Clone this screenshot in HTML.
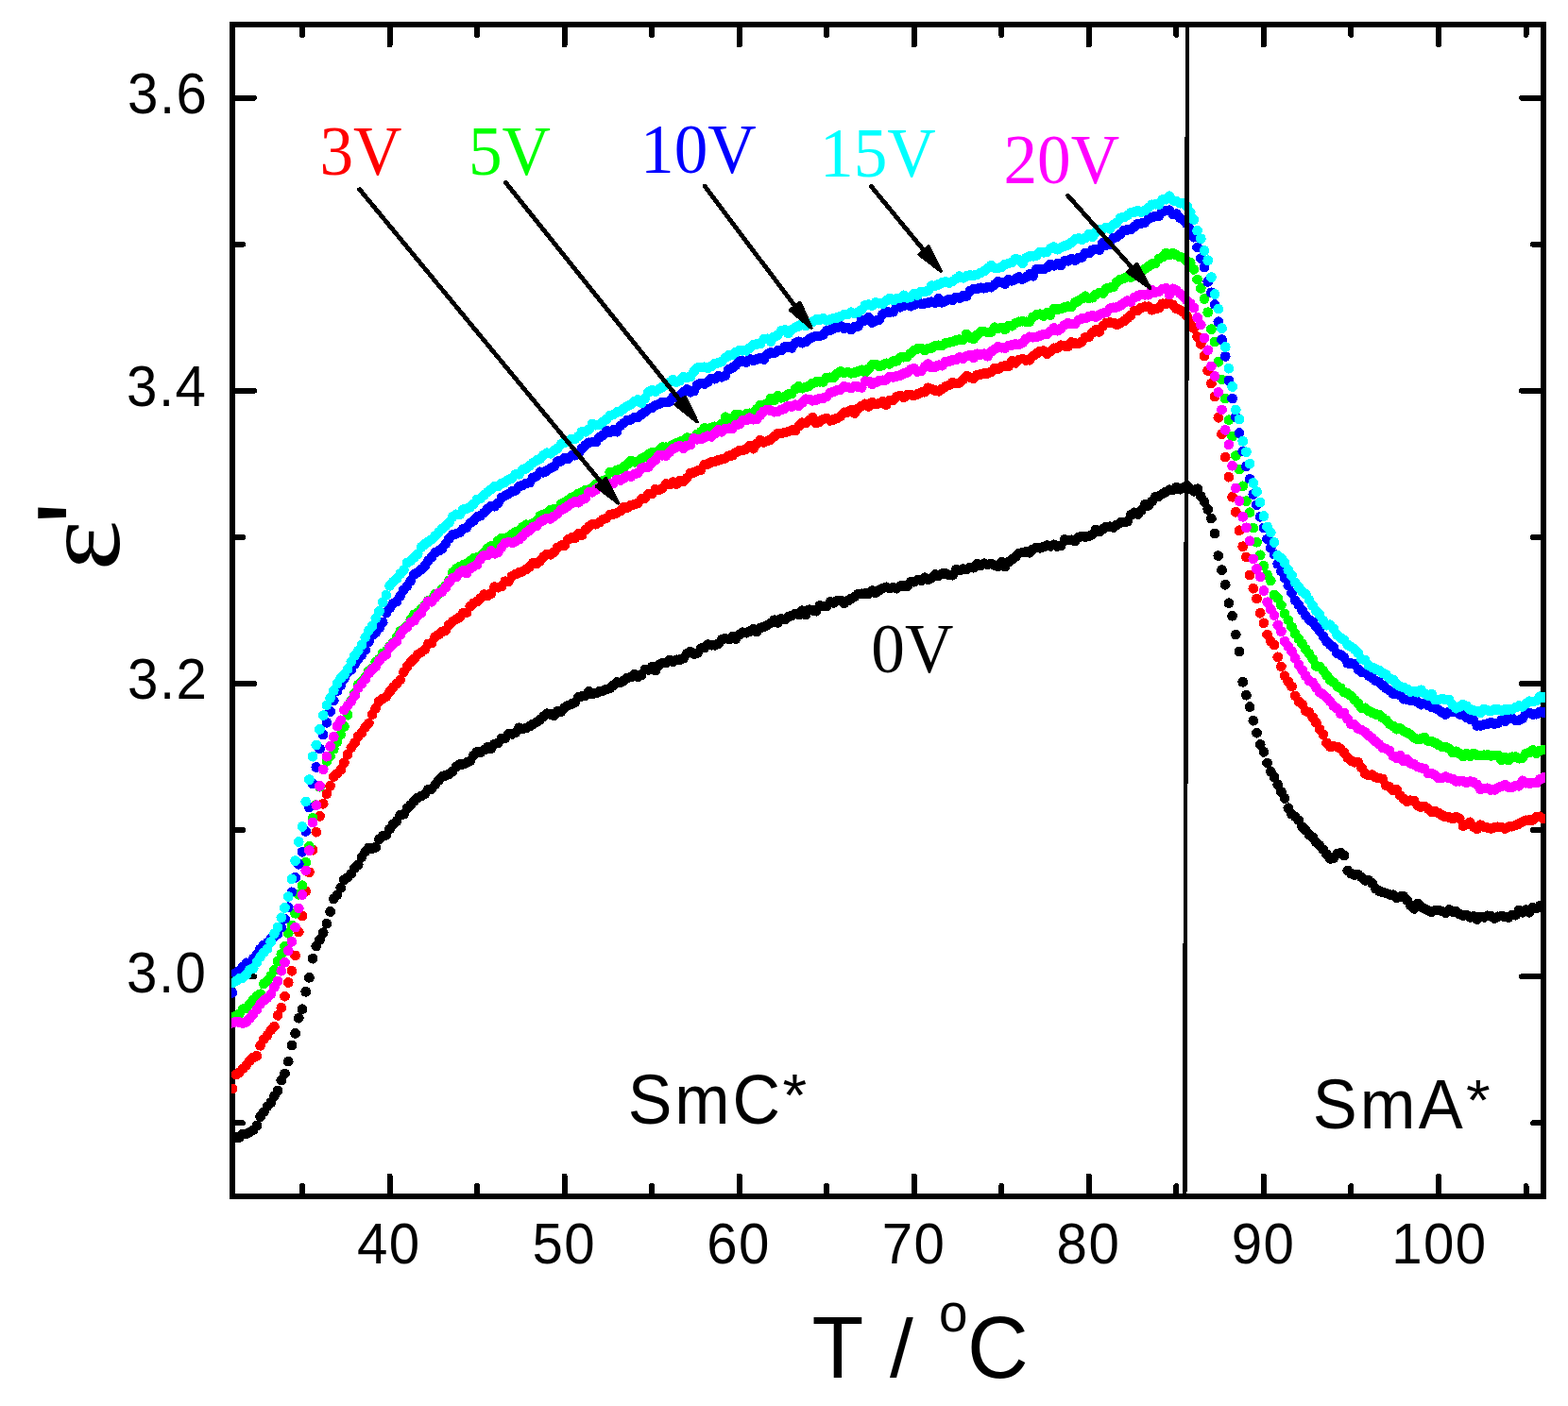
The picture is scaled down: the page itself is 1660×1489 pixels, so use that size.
<!DOCTYPE html>
<html lang="en">
<head>
<meta charset="utf-8">
<title>Dielectric permittivity vs temperature</title>
<style>
html,body{margin:0;padding:0;background:#fff;}
body{width:1660px;height:1489px;overflow:hidden;}
svg{display:block;}
</style>
</head>
<body>
<svg width="1660" height="1489" viewBox="0 0 1660 1489">
<rect x="0" y="0" width="1660" height="1489" fill="#ffffff"/>
<defs><clipPath id="plotclip"><rect x="245" y="23" width="1391.1" height="1247"/></clipPath></defs>
<g shape-rendering="crispEdges">
<rect x="246.0" y="26.0" width="1388.0" height="1241.0" fill="none" stroke="#000" stroke-width="6.0"/>
<path d="M320.0 1267.0V1256.0M320.0 26.0V37.0M412.6 1267.0V1245.5M412.6 26.0V47.5M505.1 1267.0V1256.0M505.1 26.0V37.0M597.6 1267.0V1245.5M597.6 26.0V47.5M690.2 1267.0V1256.0M690.2 26.0V37.0M782.7 1267.0V1245.5M782.7 26.0V47.5M875.2 1267.0V1256.0M875.2 26.0V37.0M967.8 1267.0V1245.5M967.8 26.0V47.5M1060.3 1267.0V1256.0M1060.3 26.0V37.0M1152.8 1267.0V1245.5M1152.8 26.0V47.5M1245.4 1267.0V1256.0M1245.4 26.0V37.0M1337.9 1267.0V1245.5M1337.9 26.0V47.5M1430.4 1267.0V1256.0M1430.4 26.0V37.0M1523.0 1267.0V1245.5M1523.0 26.0V47.5M1615.5 1267.0V1256.0M1615.5 26.0V37.0M246.0 1189.4H257.0M1634.0 1189.4H1623.0M246.0 1034.3H269.0M1634.0 1034.3H1611.0M246.0 879.2H257.0M1634.0 879.2H1623.0M246.0 724.1H269.0M1634.0 724.1H1611.0M246.0 568.9H257.0M1634.0 568.9H1623.0M246.0 413.8H269.0M1634.0 413.8H1611.0M246.0 258.7H257.0M1634.0 258.7H1623.0M246.0 103.6H269.0M1634.0 103.6H1611.0" stroke="#000" stroke-width="6.0" stroke-linecap="round" fill="none"/>
<g clip-path="url(#plotclip)" fill="none" stroke-width="10.8" stroke-linecap="round">
<path stroke="#000000" d="M246.0 1203.6h0M249.7 1204.3h0M253.4 1204.5h0M257.1 1201.1h0M260.8 1200.8h0M264.5 1198.9h0M268.2 1196.6h0M271.9 1191.9h0M275.6 1182.5h0M279.3 1177.6h0M283.0 1171.7h0M286.7 1167.7h0M290.4 1160.9h0M294.1 1155.1h0M297.8 1144.1h0M301.5 1136.9h0M305.2 1124.1h0M308.9 1107.0h0M312.6 1094.4h0M316.3 1078.2h0M320.0 1068.8h0M323.7 1050.3h0M327.4 1035.3h0M331.1 1015.2h0M334.8 1002.0h0M338.5 995.3h0M342.2 987.7h0M345.9 978.2h0M349.6 965.5h0M353.3 952.0h0M357.0 947.7h0M360.7 940.2h0M364.4 931.7h0M368.1 929.2h0M371.8 925.4h0M375.5 919.3h0M379.2 915.7h0M382.9 907.7h0M386.7 902.0h0M390.4 897.9h0M394.1 898.7h0M397.8 897.3h0M401.5 888.8h0M405.2 885.1h0M408.9 884.4h0M412.6 877.9h0M416.3 872.9h0M420.0 869.5h0M423.7 863.2h0M427.4 862.3h0M431.1 856.0h0M434.8 852.5h0M438.5 848.4h0M442.2 845.0h0M445.9 843.2h0M449.6 841.0h0M453.3 836.3h0M457.0 835.4h0M460.7 831.0h0M464.4 826.3h0M468.1 822.6h0M471.8 821.3h0M475.5 819.6h0M479.2 817.0h0M482.9 812.1h0M486.6 809.6h0M490.3 809.3h0M494.0 807.6h0M497.7 805.9h0M501.4 800.1h0M505.1 796.2h0M508.8 796.7h0M512.5 794.2h0M516.2 791.3h0M519.9 792.8h0M523.6 787.9h0M527.3 786.8h0M531.0 781.9h0M534.7 781.7h0M538.4 777.5h0M542.1 777.4h0M545.8 775.8h0M549.5 770.8h0M553.2 772.1h0M556.9 771.1h0M560.6 769.1h0M564.3 766.8h0M568.0 764.8h0M571.7 762.1h0M575.4 758.9h0M579.1 755.7h0M582.8 756.5h0M586.5 757.6h0M590.2 753.1h0M593.9 753.7h0M597.6 749.6h0M601.3 747.2h0M605.0 745.6h0M608.7 743.8h0M612.4 738.5h0M616.1 737.2h0M619.8 736.6h0M623.5 732.5h0M627.2 735.0h0M630.9 734.1h0M634.6 732.3h0M638.3 731.6h0M642.0 730.0h0M645.7 728.8h0M649.4 725.6h0M653.1 722.6h0M656.8 722.8h0M660.5 720.8h0M664.3 717.9h0M668.0 717.1h0M671.7 714.3h0M675.4 716.8h0M679.1 715.0h0M682.8 709.2h0M686.5 709.4h0M690.2 706.2h0M693.9 709.9h0M697.6 704.5h0M701.3 702.3h0M705.0 702.0h0M708.7 698.9h0M712.4 700.8h0M716.1 698.8h0M719.8 698.6h0M723.5 697.3h0M727.2 692.2h0M730.9 690.2h0M734.6 692.5h0M738.3 691.6h0M742.0 686.8h0M745.7 686.1h0M749.4 682.6h0M753.1 683.2h0M756.8 683.3h0M760.5 681.8h0M764.2 677.3h0M767.9 676.2h0M771.6 677.1h0M775.3 674.4h0M779.0 676.6h0M782.7 672.3h0M786.4 669.7h0M790.1 670.2h0M793.8 668.5h0M797.5 666.3h0M801.2 669.0h0M804.9 664.9h0M808.6 663.8h0M812.3 662.2h0M816.0 659.7h0M819.7 656.7h0M823.4 659.4h0M827.1 655.4h0M830.8 656.1h0M834.5 653.2h0M838.2 651.9h0M841.9 650.0h0M845.6 651.1h0M849.3 646.7h0M853.0 650.9h0M856.7 645.7h0M860.4 646.3h0M864.1 647.2h0M867.8 641.5h0M871.5 642.0h0M875.2 641.8h0M878.9 637.6h0M882.6 638.4h0M886.3 636.3h0M890.0 635.9h0M893.7 638.7h0M897.4 636.3h0M901.1 634.0h0M904.8 631.9h0M908.5 629.0h0M912.2 628.8h0M915.9 628.5h0M919.6 628.8h0M923.3 625.6h0M927.0 627.8h0M930.7 625.3h0M934.4 623.0h0M938.1 621.8h0M941.9 622.9h0M945.6 622.0h0M949.3 623.2h0M953.0 620.8h0M956.7 620.4h0M960.4 621.1h0M964.1 616.4h0M967.8 616.2h0M971.5 614.1h0M975.2 614.9h0M978.9 611.7h0M982.6 613.8h0M986.3 612.2h0M990.0 608.6h0M993.7 609.6h0M997.4 607.6h0M1001.1 607.4h0M1004.8 609.0h0M1008.5 609.1h0M1012.2 603.1h0M1015.9 604.1h0M1019.6 602.7h0M1023.3 603.1h0M1027.0 601.0h0M1030.7 601.2h0M1034.4 597.3h0M1038.1 598.8h0M1041.8 596.7h0M1045.5 598.0h0M1049.2 596.9h0M1052.9 598.7h0M1056.6 599.6h0M1060.3 595.4h0M1064.0 600.2h0M1067.7 595.2h0M1071.4 592.5h0M1075.1 589.6h0M1078.8 585.9h0M1082.5 584.9h0M1086.2 584.3h0M1089.9 585.3h0M1093.6 581.8h0M1097.3 580.0h0M1101.0 580.3h0M1104.7 579.2h0M1108.4 577.6h0M1112.1 578.4h0M1115.8 576.8h0M1119.5 578.5h0M1123.2 577.8h0M1126.9 571.5h0M1130.6 572.1h0M1134.3 571.8h0M1138.0 573.2h0M1141.7 569.4h0M1145.4 567.9h0M1149.1 568.7h0M1152.8 567.9h0M1156.5 565.9h0M1160.2 561.0h0M1163.9 563.1h0M1167.6 560.1h0M1171.3 558.0h0M1175.0 557.8h0M1178.7 558.5h0M1182.4 555.8h0M1186.1 553.6h0M1189.8 553.0h0M1193.5 552.2h0M1197.2 545.4h0M1200.9 542.8h0M1204.6 544.5h0M1208.3 540.4h0M1212.0 534.4h0M1215.7 535.4h0M1219.5 531.0h0M1223.2 526.4h0M1226.9 525.5h0M1230.6 523.0h0M1234.3 520.8h0M1238.0 518.7h0M1241.7 518.7h0M1245.4 516.2h0M1249.1 518.2h0M1252.8 516.5h0M1256.5 514.2h0M1260.2 517.9h0M1263.9 520.3h0M1267.6 517.7h0M1271.3 525.5h0M1275.0 531.4h0M1278.7 539.4h0M1282.4 549.1h0M1286.1 564.9h0M1289.8 588.6h0M1293.5 603.7h0M1297.2 619.3h0M1300.9 638.7h0M1304.6 652.2h0M1308.3 672.1h0M1312.0 690.0h0M1315.7 722.3h0M1319.4 736.2h0M1323.1 748.6h0M1326.8 763.2h0M1330.5 776.1h0M1334.2 788.5h0M1337.9 796.4h0M1341.6 808.1h0M1345.3 817.0h0M1349.0 823.0h0M1352.7 831.0h0M1356.4 838.5h0M1360.1 845.5h0M1363.8 855.7h0M1367.5 862.2h0M1371.2 864.9h0M1374.9 868.7h0M1378.6 875.7h0M1382.3 879.3h0M1386.0 884.1h0M1389.7 886.6h0M1393.4 892.0h0M1397.1 895.5h0M1400.8 899.6h0M1404.5 904.6h0M1408.2 909.4h0M1411.9 908.8h0M1415.6 904.3h0M1419.3 903.4h0M1423.0 905.9h0M1426.7 922.0h0M1430.4 925.2h0M1434.1 926.5h0M1437.8 926.2h0M1441.5 929.1h0M1445.2 932.4h0M1448.9 932.2h0M1452.6 935.5h0M1456.3 941.0h0M1460.0 943.5h0M1463.7 944.8h0M1467.4 945.9h0M1471.1 947.3h0M1474.8 947.7h0M1478.5 950.8h0M1482.2 949.6h0M1485.9 949.4h0M1489.6 953.3h0M1493.3 958.8h0M1497.1 962.4h0M1500.8 956.9h0M1504.5 960.4h0M1508.2 962.4h0M1511.9 964.2h0M1515.6 965.7h0M1519.3 964.1h0M1523.0 964.1h0M1526.7 965.1h0M1530.4 966.7h0M1534.1 963.5h0M1537.8 965.5h0M1541.5 965.5h0M1545.2 968.0h0M1548.9 969.6h0M1552.6 969.1h0M1556.3 971.4h0M1560.0 970.4h0M1563.7 973.5h0M1567.4 970.9h0M1571.1 971.4h0M1574.8 969.8h0M1578.5 970.4h0M1582.2 972.5h0M1585.9 970.8h0M1589.6 969.9h0M1593.3 971.1h0M1597.0 971.7h0M1600.7 969.0h0M1604.4 969.2h0M1608.1 964.1h0M1611.8 966.3h0M1615.5 963.7h0M1619.2 966.3h0M1622.9 961.3h0M1626.6 962.0h0M1630.3 959.3h0M1634.0 959.8h0"/>
<path stroke="#ff0000" d="M246.0 1152.9h0M249.7 1138.1h0M253.4 1135.7h0M257.1 1131.7h0M260.8 1128.0h0M264.5 1123.4h0M268.2 1120.0h0M271.9 1118.3h0M275.6 1107.3h0M279.3 1100.6h0M283.0 1096.5h0M286.7 1090.9h0M290.4 1087.1h0M294.1 1075.4h0M297.8 1067.2h0M301.5 1055.1h0M305.2 1040.5h0M308.9 1028.3h0M312.6 1011.9h0M316.3 987.0h0M320.0 970.1h0M323.7 944.0h0M327.4 923.8h0M331.1 900.2h0M334.8 881.2h0M338.5 864.4h0M342.2 851.3h0M345.9 840.8h0M349.6 832.3h0M353.3 822.4h0M357.0 819.3h0M360.7 815.2h0M364.4 807.6h0M368.1 799.0h0M371.8 791.8h0M375.5 786.8h0M379.2 780.0h0M382.9 776.2h0M386.7 770.1h0M390.4 766.0h0M394.1 756.6h0M397.8 750.0h0M401.5 742.6h0M405.2 739.8h0M408.9 737.7h0M412.6 732.5h0M416.3 728.0h0M420.0 724.0h0M423.7 720.0h0M427.4 711.8h0M431.1 705.9h0M434.8 701.1h0M438.5 697.6h0M442.2 693.3h0M445.9 690.8h0M449.6 688.0h0M453.3 682.0h0M457.0 681.2h0M460.7 674.5h0M464.4 672.2h0M468.1 668.8h0M471.8 667.6h0M475.5 661.6h0M479.2 658.2h0M482.9 655.8h0M486.6 653.6h0M490.3 649.3h0M494.0 648.8h0M497.7 642.4h0M501.4 638.9h0M505.1 637.1h0M508.8 633.5h0M512.5 629.7h0M516.2 630.8h0M519.9 628.6h0M523.6 621.6h0M527.3 622.2h0M531.0 621.1h0M534.7 615.7h0M538.4 615.9h0M542.1 610.2h0M545.8 608.2h0M549.5 606.4h0M553.2 605.2h0M556.9 602.9h0M560.6 600.3h0M564.3 596.3h0M568.0 596.9h0M571.7 594.1h0M575.4 589.8h0M579.1 586.9h0M582.8 587.3h0M586.5 584.7h0M590.2 580.0h0M593.9 577.7h0M597.6 577.5h0M601.3 571.4h0M605.0 569.6h0M608.7 569.8h0M612.4 565.3h0M616.1 566.6h0M619.8 561.3h0M623.5 557.7h0M627.2 555.2h0M630.9 555.2h0M634.6 553.1h0M638.3 550.1h0M642.0 548.7h0M645.7 545.3h0M649.4 544.4h0M653.1 543.3h0M656.8 541.2h0M660.5 537.0h0M664.3 537.5h0M668.0 535.2h0M671.7 534.2h0M675.4 532.6h0M679.1 528.5h0M682.8 527.5h0M686.5 523.5h0M690.2 523.0h0M693.9 518.2h0M697.6 519.0h0M701.3 517.1h0M705.0 512.6h0M708.7 513.1h0M712.4 510.6h0M716.1 512.6h0M719.8 508.9h0M723.5 509.7h0M727.2 506.2h0M730.9 501.3h0M734.6 500.3h0M738.3 498.6h0M742.0 497.7h0M745.7 492.4h0M749.4 491.5h0M753.1 489.4h0M756.8 488.7h0M760.5 487.5h0M764.2 486.2h0M767.9 485.4h0M771.6 482.7h0M775.3 482.3h0M779.0 479.3h0M782.7 477.3h0M786.4 476.8h0M790.1 475.4h0M793.8 472.0h0M797.5 475.1h0M801.2 469.8h0M804.9 466.3h0M808.6 468.4h0M812.3 467.1h0M816.0 465.4h0M819.7 462.2h0M823.4 459.0h0M827.1 458.9h0M830.8 458.1h0M834.5 456.9h0M838.2 455.6h0M841.9 456.1h0M845.6 451.4h0M849.3 447.7h0M853.0 447.9h0M856.7 445.3h0M860.4 442.1h0M864.1 448.0h0M867.8 446.6h0M871.5 444.0h0M875.2 442.9h0M878.9 445.4h0M882.6 444.3h0M886.3 442.8h0M890.0 440.6h0M893.7 436.8h0M897.4 436.4h0M901.1 434.2h0M904.8 437.6h0M908.5 432.7h0M912.2 430.0h0M915.9 427.8h0M919.6 430.4h0M923.3 426.3h0M927.0 428.0h0M930.7 427.2h0M934.4 425.3h0M938.1 428.7h0M941.9 424.0h0M945.6 423.8h0M949.3 420.1h0M953.0 419.2h0M956.7 421.0h0M960.4 418.4h0M964.1 418.2h0M967.8 418.9h0M971.5 417.4h0M975.2 415.6h0M978.9 415.2h0M982.6 410.8h0M986.3 412.0h0M990.0 413.6h0M993.7 414.3h0M997.4 411.9h0M1001.1 409.4h0M1004.8 407.8h0M1008.5 404.9h0M1012.2 406.0h0M1015.9 405.4h0M1019.6 402.0h0M1023.3 398.4h0M1027.0 399.7h0M1030.7 400.6h0M1034.4 397.2h0M1038.1 396.5h0M1041.8 395.6h0M1045.5 395.5h0M1049.2 393.8h0M1052.9 390.0h0M1056.6 391.0h0M1060.3 388.5h0M1064.0 387.5h0M1067.7 387.7h0M1071.4 382.4h0M1075.1 384.4h0M1078.8 380.9h0M1082.5 379.9h0M1086.2 381.6h0M1089.9 381.3h0M1093.6 377.0h0M1097.3 374.5h0M1101.0 372.0h0M1104.7 371.6h0M1108.4 374.6h0M1112.1 372.3h0M1115.8 368.8h0M1119.5 368.5h0M1123.2 365.7h0M1126.9 366.3h0M1130.6 367.0h0M1134.3 362.5h0M1138.0 363.6h0M1141.7 363.8h0M1145.4 361.7h0M1149.1 357.2h0M1152.8 356.8h0M1156.5 352.3h0M1160.2 349.4h0M1163.9 351.4h0M1167.6 345.2h0M1171.3 342.0h0M1175.0 341.6h0M1178.7 341.9h0M1182.4 343.8h0M1186.1 342.2h0M1189.8 340.2h0M1193.5 337.0h0M1197.2 333.8h0M1200.9 329.1h0M1204.6 328.7h0M1208.3 325.9h0M1212.0 324.8h0M1215.7 324.7h0M1219.5 328.3h0M1223.2 327.0h0M1226.9 326.2h0M1230.6 321.7h0M1234.3 321.7h0M1238.0 320.8h0M1241.7 322.9h0M1245.4 326.8h0M1249.1 328.3h0M1252.8 330.6h0M1256.5 334.7h0M1260.2 340.7h0M1263.9 347.6h0M1267.6 356.7h0M1271.3 364.4h0M1275.0 377.1h0M1278.7 392.5h0M1282.4 406.1h0M1286.1 420.1h0M1289.8 442.3h0M1293.5 459.8h0M1297.2 484.1h0M1300.9 505.2h0M1304.6 526.3h0M1308.3 542.3h0M1312.0 561.8h0M1315.7 578.7h0M1319.4 589.9h0M1323.1 608.9h0M1326.8 623.2h0M1330.5 634.0h0M1334.2 649.3h0M1337.9 659.8h0M1341.6 672.1h0M1345.3 679.0h0M1349.0 683.0h0M1352.7 695.8h0M1356.4 705.9h0M1360.1 715.8h0M1363.8 722.0h0M1367.5 727.0h0M1371.2 736.9h0M1374.9 742.8h0M1378.6 746.0h0M1382.3 752.9h0M1386.0 754.5h0M1389.7 759.6h0M1393.4 765.4h0M1397.1 772.3h0M1400.8 777.9h0M1404.5 786.8h0M1408.2 790.7h0M1411.9 790.2h0M1415.6 790.9h0M1419.3 792.9h0M1423.0 796.8h0M1426.7 802.4h0M1430.4 805.6h0M1434.1 807.3h0M1437.8 807.1h0M1441.5 813.1h0M1445.2 819.3h0M1448.9 821.1h0M1452.6 820.6h0M1456.3 823.2h0M1460.0 824.1h0M1463.7 824.9h0M1467.4 832.0h0M1471.1 833.5h0M1474.8 836.9h0M1478.5 836.5h0M1482.2 842.4h0M1485.9 845.9h0M1489.6 849.0h0M1493.3 847.7h0M1497.1 848.2h0M1500.8 853.3h0M1504.5 854.5h0M1508.2 854.1h0M1511.9 856.5h0M1515.6 859.6h0M1519.3 859.3h0M1523.0 860.9h0M1526.7 863.3h0M1530.4 865.1h0M1534.1 865.5h0M1537.8 867.1h0M1541.5 865.4h0M1545.2 866.8h0M1548.9 874.6h0M1552.6 872.8h0M1556.3 870.8h0M1560.0 875.6h0M1563.7 878.0h0M1567.4 873.7h0M1571.1 875.7h0M1574.8 876.6h0M1578.5 877.4h0M1582.2 876.3h0M1585.9 875.8h0M1589.6 876.1h0M1593.3 877.6h0M1597.0 875.8h0M1600.7 875.2h0M1604.4 874.1h0M1608.1 872.4h0M1611.8 870.4h0M1615.5 868.8h0M1619.2 868.5h0M1622.9 868.4h0M1626.6 865.3h0M1630.3 864.8h0M1634.0 867.1h0"/>
<path stroke="#00ff00" d="M246.0 1077.8h0M249.7 1076.1h0M253.4 1073.8h0M257.1 1068.7h0M260.8 1067.5h0M264.5 1063.5h0M268.2 1058.9h0M271.9 1054.9h0M275.6 1052.7h0M279.3 1042.0h0M283.0 1038.9h0M286.7 1033.7h0M290.4 1027.3h0M294.1 1018.1h0M297.8 1010.4h0M301.5 1002.1h0M305.2 988.3h0M308.9 979.9h0M312.6 967.3h0M316.3 947.3h0M320.0 937.8h0M323.7 913.2h0M327.4 896.4h0M331.1 866.4h0M334.8 852.6h0M338.5 833.3h0M342.2 814.8h0M345.9 806.4h0M349.6 800.8h0M353.3 793.3h0M357.0 785.5h0M360.7 778.0h0M364.4 769.4h0M368.1 757.2h0M371.8 742.0h0M375.5 734.3h0M379.2 725.4h0M382.9 722.2h0M386.7 716.9h0M390.4 710.6h0M394.1 708.1h0M397.8 701.0h0M401.5 698.0h0M405.2 691.8h0M408.9 689.5h0M412.6 684.8h0M416.3 680.7h0M420.0 674.8h0M423.7 668.6h0M427.4 666.3h0M431.1 662.9h0M434.8 656.3h0M438.5 650.8h0M442.2 648.7h0M445.9 644.8h0M449.6 641.4h0M453.3 636.2h0M457.0 634.9h0M460.7 629.1h0M464.4 628.7h0M468.1 624.0h0M471.8 620.4h0M475.5 614.8h0M479.2 606.4h0M482.9 602.5h0M486.6 600.1h0M490.3 598.5h0M494.0 596.9h0M497.7 593.9h0M501.4 591.3h0M505.1 590.2h0M508.8 588.9h0M512.5 585.4h0M516.2 580.9h0M519.9 578.4h0M523.6 578.6h0M527.3 572.9h0M531.0 570.2h0M534.7 569.9h0M538.4 568.9h0M542.1 565.8h0M545.8 563.6h0M549.5 562.1h0M553.2 558.4h0M556.9 555.7h0M560.6 556.4h0M564.3 554.3h0M568.0 551.7h0M571.7 546.6h0M575.4 544.8h0M579.1 543.5h0M582.8 540.1h0M586.5 539.3h0M590.2 539.7h0M593.9 534.3h0M597.6 531.9h0M601.3 529.9h0M605.0 527.1h0M608.7 525.6h0M612.4 522.8h0M616.1 521.4h0M619.8 518.9h0M623.5 518.6h0M627.2 516.5h0M630.9 512.7h0M634.6 510.4h0M638.3 509.3h0M642.0 507.7h0M645.7 500.2h0M649.4 500.0h0M653.1 497.8h0M656.8 496.9h0M660.5 494.2h0M664.3 491.5h0M668.0 488.1h0M671.7 489.3h0M675.4 488.9h0M679.1 485.7h0M682.8 484.2h0M686.5 481.2h0M690.2 479.1h0M693.9 479.4h0M697.6 477.3h0M701.3 473.6h0M705.0 473.8h0M708.7 473.5h0M712.4 471.0h0M716.1 469.4h0M719.8 467.8h0M723.5 466.6h0M727.2 463.6h0M730.9 464.0h0M734.6 464.3h0M738.3 459.8h0M742.0 457.4h0M745.7 453.5h0M749.4 454.6h0M753.1 452.8h0M756.8 451.8h0M760.5 452.1h0M764.2 449.0h0M767.9 441.7h0M771.6 444.5h0M775.3 442.9h0M779.0 439.1h0M782.7 439.5h0M786.4 440.2h0M790.1 438.5h0M793.8 437.8h0M797.5 437.1h0M801.2 433.1h0M804.9 429.2h0M808.6 428.8h0M812.3 427.5h0M816.0 421.9h0M819.7 423.9h0M823.4 419.4h0M827.1 421.3h0M830.8 420.2h0M834.5 417.6h0M838.2 416.8h0M841.9 412.1h0M845.6 409.3h0M849.3 411.2h0M853.0 410.2h0M856.7 408.6h0M860.4 405.9h0M864.1 404.5h0M867.8 404.3h0M871.5 404.4h0M875.2 400.0h0M878.9 399.8h0M882.6 399.5h0M886.3 395.6h0M890.0 393.5h0M893.7 395.0h0M897.4 394.1h0M901.1 395.3h0M904.8 394.5h0M908.5 393.4h0M912.2 391.8h0M915.9 394.0h0M919.6 390.8h0M923.3 386.4h0M927.0 386.0h0M930.7 388.1h0M934.4 386.6h0M938.1 384.8h0M941.9 385.4h0M945.6 382.6h0M949.3 382.3h0M953.0 378.7h0M956.7 378.2h0M960.4 377.7h0M964.1 374.2h0M967.8 370.9h0M971.5 369.4h0M975.2 369.0h0M978.9 371.1h0M982.6 369.0h0M986.3 368.4h0M990.0 366.3h0M993.7 365.8h0M997.4 365.8h0M1001.1 363.4h0M1004.8 362.7h0M1008.5 362.0h0M1012.2 360.4h0M1015.9 359.6h0M1019.6 359.8h0M1023.3 353.9h0M1027.0 357.6h0M1030.7 358.7h0M1034.4 354.6h0M1038.1 351.5h0M1041.8 351.1h0M1045.5 351.9h0M1049.2 351.5h0M1052.9 346.7h0M1056.6 347.9h0M1060.3 347.0h0M1064.0 348.8h0M1067.7 344.9h0M1071.4 345.2h0M1075.1 342.3h0M1078.8 340.8h0M1082.5 340.2h0M1086.2 340.8h0M1089.9 340.6h0M1093.6 335.8h0M1097.3 333.4h0M1101.0 332.7h0M1104.7 334.5h0M1108.4 331.5h0M1112.1 333.5h0M1115.8 327.0h0M1119.5 327.7h0M1123.2 327.1h0M1126.9 325.5h0M1130.6 324.6h0M1134.3 324.9h0M1138.0 320.5h0M1141.7 318.6h0M1145.4 316.3h0M1149.1 313.7h0M1152.8 315.9h0M1156.5 315.2h0M1160.2 312.0h0M1163.9 310.2h0M1167.6 310.5h0M1171.3 305.7h0M1175.0 304.8h0M1178.7 303.9h0M1182.4 298.7h0M1186.1 296.1h0M1189.8 294.9h0M1193.5 293.0h0M1197.2 293.5h0M1200.9 291.6h0M1204.6 287.9h0M1208.3 287.7h0M1212.0 284.8h0M1215.7 282.3h0M1219.5 279.7h0M1223.2 278.7h0M1226.9 274.3h0M1230.6 272.1h0M1234.3 268.1h0M1238.0 270.0h0M1241.7 268.2h0M1245.4 270.2h0M1249.1 272.1h0M1252.8 273.1h0M1256.5 276.5h0M1260.2 278.2h0M1263.9 285.4h0M1267.6 296.0h0M1271.3 305.4h0M1275.0 316.5h0M1278.7 330.7h0M1282.4 348.6h0M1286.1 362.0h0M1289.8 383.3h0M1293.5 401.9h0M1297.2 422.1h0M1300.9 444.7h0M1304.6 462.1h0M1308.3 482.6h0M1312.0 497.0h0M1315.7 514.8h0M1319.4 530.6h0M1323.1 542.7h0M1326.8 559.1h0M1330.5 574.3h0M1334.2 587.8h0M1337.9 599.2h0M1341.6 608.8h0M1345.3 615.1h0M1349.0 630.0h0M1352.7 633.4h0M1356.4 640.9h0M1360.1 649.9h0M1363.8 656.6h0M1367.5 663.9h0M1371.2 671.0h0M1374.9 676.6h0M1378.6 681.9h0M1382.3 687.5h0M1386.0 692.3h0M1389.7 698.1h0M1393.4 705.3h0M1397.1 706.1h0M1400.8 710.3h0M1404.5 715.2h0M1408.2 720.0h0M1411.9 722.7h0M1415.6 726.8h0M1419.3 728.7h0M1423.0 733.2h0M1426.7 734.5h0M1430.4 736.9h0M1434.1 741.3h0M1437.8 745.0h0M1441.5 749.8h0M1445.2 749.8h0M1448.9 753.1h0M1452.6 754.6h0M1456.3 756.3h0M1460.0 757.1h0M1463.7 760.2h0M1467.4 762.7h0M1471.1 766.8h0M1474.8 769.0h0M1478.5 772.1h0M1482.2 771.4h0M1485.9 774.3h0M1489.6 775.8h0M1493.3 777.8h0M1497.1 781.3h0M1500.8 782.9h0M1504.5 782.5h0M1508.2 781.0h0M1511.9 784.7h0M1515.6 785.2h0M1519.3 786.7h0M1523.0 789.0h0M1526.7 791.0h0M1530.4 791.1h0M1534.1 792.7h0M1537.8 797.0h0M1541.5 795.8h0M1545.2 798.2h0M1548.9 800.9h0M1552.6 798.5h0M1556.3 800.8h0M1560.0 798.1h0M1563.7 799.6h0M1567.4 799.9h0M1571.1 799.7h0M1574.8 799.5h0M1578.5 800.4h0M1582.2 800.0h0M1585.9 800.1h0M1589.6 804.9h0M1593.3 802.4h0M1597.0 804.9h0M1600.7 801.7h0M1604.4 801.6h0M1608.1 803.2h0M1611.8 802.5h0M1615.5 798.0h0M1619.2 796.7h0M1622.9 794.5h0M1626.6 797.6h0M1630.3 794.9h0M1634.0 794.1h0"/>
<path stroke="#0000ff" d="M246.0 1051.3h0M249.7 1030.6h0M253.4 1028.1h0M257.1 1024.1h0M260.8 1019.8h0M264.5 1020.5h0M268.2 1015.2h0M271.9 1010.8h0M275.6 1004.9h0M279.3 1000.8h0M283.0 998.5h0M286.7 994.3h0M290.4 991.8h0M294.1 989.2h0M297.8 982.2h0M301.5 973.1h0M305.2 960.7h0M308.9 944.8h0M312.6 929.4h0M316.3 915.3h0M320.0 902.3h0M323.7 880.4h0M327.4 855.1h0M331.1 829.9h0M334.8 812.5h0M338.5 793.0h0M342.2 778.0h0M345.9 765.3h0M349.6 753.5h0M353.3 742.0h0M357.0 731.8h0M360.7 725.9h0M364.4 718.7h0M368.1 711.8h0M371.8 709.1h0M375.5 703.2h0M379.2 698.3h0M382.9 693.7h0M386.7 688.4h0M390.4 679.8h0M394.1 672.7h0M397.8 669.9h0M401.5 665.1h0M405.2 659.2h0M408.9 649.2h0M412.6 643.9h0M416.3 639.1h0M420.0 636.9h0M423.7 631.1h0M427.4 624.6h0M431.1 620.5h0M434.8 615.0h0M438.5 608.3h0M442.2 606.2h0M445.9 603.1h0M449.6 599.5h0M453.3 594.0h0M457.0 590.2h0M460.7 585.3h0M464.4 583.3h0M468.1 580.9h0M471.8 575.8h0M475.5 570.5h0M479.2 566.2h0M482.9 565.4h0M486.6 564.0h0M490.3 560.1h0M494.0 558.6h0M497.7 553.8h0M501.4 551.5h0M505.1 547.5h0M508.8 546.0h0M512.5 542.9h0M516.2 538.8h0M519.9 536.1h0M523.6 536.2h0M527.3 532.7h0M531.0 526.9h0M534.7 524.8h0M538.4 523.0h0M542.1 520.4h0M545.8 519.4h0M549.5 515.4h0M553.2 513.9h0M556.9 511.9h0M560.6 511.1h0M564.3 505.8h0M568.0 504.3h0M571.7 499.8h0M575.4 500.3h0M579.1 498.4h0M582.8 495.7h0M586.5 494.1h0M590.2 488.6h0M593.9 488.4h0M597.6 485.3h0M601.3 486.0h0M605.0 482.6h0M608.7 482.2h0M612.4 480.4h0M616.1 475.0h0M619.8 471.5h0M623.5 468.8h0M627.2 468.1h0M630.9 468.0h0M634.6 463.1h0M638.3 460.7h0M642.0 456.1h0M645.7 457.9h0M649.4 455.4h0M653.1 457.2h0M656.8 450.7h0M660.5 447.9h0M664.3 445.0h0M668.0 444.3h0M671.7 442.2h0M675.4 441.9h0M679.1 438.8h0M682.8 436.2h0M686.5 433.1h0M690.2 431.9h0M693.9 429.4h0M697.6 428.0h0M701.3 425.9h0M705.0 426.0h0M708.7 425.4h0M712.4 420.9h0M716.1 420.6h0M719.8 419.1h0M723.5 415.1h0M727.2 412.5h0M730.9 415.3h0M734.6 414.1h0M738.3 407.7h0M742.0 406.2h0M745.7 406.5h0M749.4 404.4h0M753.1 400.9h0M756.8 401.2h0M760.5 398.3h0M764.2 399.3h0M767.9 397.8h0M771.6 391.1h0M775.3 389.4h0M779.0 386.6h0M782.7 382.3h0M786.4 382.5h0M790.1 383.5h0M793.8 380.3h0M797.5 381.7h0M801.2 380.5h0M804.9 379.2h0M808.6 380.5h0M812.3 375.5h0M816.0 373.3h0M819.7 373.7h0M823.4 371.5h0M827.1 370.9h0M830.8 367.6h0M834.5 367.4h0M838.2 368.4h0M841.9 363.5h0M845.6 361.8h0M849.3 363.2h0M853.0 362.0h0M856.7 358.9h0M860.4 357.1h0M864.1 355.9h0M867.8 355.9h0M871.5 354.5h0M875.2 350.4h0M878.9 349.6h0M882.6 347.7h0M886.3 347.1h0M890.0 345.3h0M893.7 347.7h0M897.4 347.2h0M901.1 349.0h0M904.8 345.9h0M908.5 345.4h0M912.2 339.0h0M915.9 339.4h0M919.6 336.4h0M923.3 341.6h0M927.0 339.8h0M930.7 338.5h0M934.4 333.1h0M938.1 330.2h0M941.9 330.8h0M945.6 330.2h0M949.3 323.8h0M953.0 325.3h0M956.7 323.9h0M960.4 321.3h0M964.1 324.2h0M967.8 322.7h0M971.5 320.6h0M975.2 321.8h0M978.9 321.4h0M982.6 320.6h0M986.3 319.7h0M990.0 320.7h0M993.7 316.4h0M997.4 320.3h0M1001.1 318.7h0M1004.8 317.2h0M1008.5 317.7h0M1012.2 315.0h0M1015.9 315.6h0M1019.6 313.4h0M1023.3 313.5h0M1027.0 308.2h0M1030.7 305.9h0M1034.4 305.8h0M1038.1 304.8h0M1041.8 305.2h0M1045.5 304.3h0M1049.2 304.2h0M1052.9 301.5h0M1056.6 298.3h0M1060.3 299.1h0M1064.0 300.6h0M1067.7 296.3h0M1071.4 297.3h0M1075.1 295.6h0M1078.8 293.4h0M1082.5 295.5h0M1086.2 293.5h0M1089.9 290.6h0M1093.6 292.3h0M1097.3 285.3h0M1101.0 284.9h0M1104.7 285.1h0M1108.4 283.3h0M1112.1 280.1h0M1115.8 281.3h0M1119.5 279.1h0M1123.2 281.1h0M1126.9 276.5h0M1130.6 276.3h0M1134.3 274.1h0M1138.0 275.5h0M1141.7 273.4h0M1145.4 272.5h0M1149.1 268.1h0M1152.8 268.1h0M1156.5 264.8h0M1160.2 263.9h0M1163.9 264.6h0M1167.6 257.3h0M1171.3 259.5h0M1175.0 258.6h0M1178.7 252.1h0M1182.4 251.1h0M1186.1 247.8h0M1189.8 243.9h0M1193.5 243.5h0M1197.2 242.9h0M1200.9 240.2h0M1204.6 236.9h0M1208.3 236.6h0M1212.0 235.7h0M1215.7 232.0h0M1219.5 230.2h0M1223.2 229.0h0M1226.9 228.6h0M1230.6 224.1h0M1234.3 222.9h0M1238.0 222.7h0M1241.7 226.9h0M1245.4 226.6h0M1249.1 230.8h0M1252.8 233.1h0M1256.5 237.1h0M1260.2 242.9h0M1263.9 251.2h0M1267.6 262.0h0M1271.3 273.6h0M1275.0 283.2h0M1278.7 298.4h0M1282.4 309.8h0M1286.1 322.6h0M1289.8 340.7h0M1293.5 359.7h0M1297.2 377.4h0M1300.9 402.9h0M1304.6 422.1h0M1308.3 441.6h0M1312.0 458.6h0M1315.7 477.8h0M1319.4 493.9h0M1323.1 507.3h0M1326.8 523.6h0M1330.5 534.6h0M1334.2 547.3h0M1337.9 558.9h0M1341.6 570.9h0M1345.3 580.2h0M1349.0 587.2h0M1352.7 597.3h0M1356.4 604.9h0M1360.1 612.4h0M1363.8 620.3h0M1367.5 627.7h0M1371.2 635.9h0M1374.9 640.6h0M1378.6 646.4h0M1382.3 651.9h0M1386.0 656.4h0M1389.7 658.7h0M1393.4 663.6h0M1397.1 668.5h0M1400.8 673.8h0M1404.5 679.3h0M1408.2 682.8h0M1411.9 685.6h0M1415.6 692.1h0M1419.3 693.6h0M1423.0 696.3h0M1426.7 702.3h0M1430.4 702.6h0M1434.1 703.5h0M1437.8 708.8h0M1441.5 711.9h0M1445.2 712.4h0M1448.9 715.5h0M1452.6 717.9h0M1456.3 720.9h0M1460.0 722.4h0M1463.7 725.8h0M1467.4 729.0h0M1471.1 731.3h0M1474.8 734.5h0M1478.5 734.4h0M1482.2 736.1h0M1485.9 740.2h0M1489.6 740.9h0M1493.3 741.7h0M1497.1 741.9h0M1500.8 743.5h0M1504.5 746.1h0M1508.2 744.7h0M1511.9 747.1h0M1515.6 748.9h0M1519.3 749.7h0M1523.0 751.7h0M1526.7 754.3h0M1530.4 756.5h0M1534.1 753.7h0M1537.8 753.9h0M1541.5 754.0h0M1545.2 756.4h0M1548.9 756.4h0M1552.6 760.0h0M1556.3 761.5h0M1560.0 762.6h0M1563.7 768.4h0M1567.4 768.4h0M1571.1 767.2h0M1574.8 766.5h0M1578.5 765.4h0M1582.2 766.6h0M1585.9 765.7h0M1589.6 762.6h0M1593.3 763.9h0M1597.0 758.4h0M1600.7 761.0h0M1604.4 762.7h0M1608.1 762.7h0M1611.8 760.7h0M1615.5 756.0h0M1619.2 755.1h0M1622.9 756.5h0M1626.6 756.2h0M1630.3 753.8h0M1634.0 754.4h0"/>
<path stroke="#00ffff" d="M246.0 1041.1h0M249.7 1038.9h0M253.4 1036.5h0M257.1 1035.4h0M260.8 1032.1h0M264.5 1026.9h0M268.2 1025.4h0M271.9 1018.9h0M275.6 1013.3h0M279.3 1008.6h0M283.0 1004.8h0M286.7 997.5h0M290.4 988.8h0M294.1 981.9h0M297.8 971.8h0M301.5 961.5h0M305.2 949.6h0M308.9 930.8h0M312.6 911.6h0M316.3 891.5h0M320.0 875.4h0M323.7 849.0h0M327.4 825.6h0M331.1 801.2h0M334.8 789.0h0M338.5 772.5h0M342.2 757.6h0M345.9 746.7h0M349.6 739.2h0M353.3 731.4h0M357.0 723.9h0M360.7 718.4h0M364.4 714.3h0M368.1 708.6h0M371.8 700.8h0M375.5 694.4h0M379.2 689.3h0M382.9 683.1h0M386.7 674.9h0M390.4 667.9h0M394.1 662.9h0M397.8 654.9h0M401.5 647.5h0M405.2 637.8h0M408.9 630.3h0M412.6 620.3h0M416.3 616.1h0M420.0 612.8h0M423.7 607.7h0M427.4 603.9h0M431.1 596.1h0M434.8 593.8h0M438.5 590.5h0M442.2 586.9h0M445.9 579.6h0M449.6 576.5h0M453.3 573.7h0M457.0 571.3h0M460.7 567.6h0M464.4 563.8h0M468.1 559.8h0M471.8 556.8h0M475.5 553.3h0M479.2 547.4h0M482.9 544.8h0M486.6 544.9h0M490.3 539.7h0M494.0 538.7h0M497.7 537.1h0M501.4 533.7h0M505.1 529.0h0M508.8 527.8h0M512.5 524.2h0M516.2 521.3h0M519.9 518.4h0M523.6 515.4h0M527.3 514.8h0M531.0 512.2h0M534.7 510.5h0M538.4 508.0h0M542.1 506.4h0M545.8 502.4h0M549.5 502.3h0M553.2 497.5h0M556.9 496.3h0M560.6 493.3h0M564.3 490.1h0M568.0 487.6h0M571.7 486.0h0M575.4 482.1h0M579.1 479.7h0M582.8 480.3h0M586.5 477.4h0M590.2 475.0h0M593.9 470.5h0M597.6 468.6h0M601.3 468.1h0M605.0 465.1h0M608.7 464.8h0M612.4 462.1h0M616.1 457.2h0M619.8 457.3h0M623.5 454.6h0M627.2 449.0h0M630.9 450.2h0M634.6 449.6h0M638.3 447.0h0M642.0 444.2h0M645.7 440.4h0M649.4 439.1h0M653.1 436.5h0M656.8 435.5h0M660.5 432.6h0M664.3 430.1h0M668.0 428.3h0M671.7 425.2h0M675.4 423.5h0M679.1 426.8h0M682.8 422.0h0M686.5 415.5h0M690.2 413.2h0M693.9 414.7h0M697.6 412.0h0M701.3 409.8h0M705.0 407.5h0M708.7 404.9h0M712.4 402.2h0M716.1 404.6h0M719.8 403.0h0M723.5 399.2h0M727.2 399.8h0M730.9 398.9h0M734.6 393.5h0M738.3 389.6h0M742.0 389.0h0M745.7 388.8h0M749.4 389.7h0M753.1 387.8h0M756.8 385.1h0M760.5 384.1h0M764.2 383.0h0M767.9 378.7h0M771.6 376.5h0M775.3 376.0h0M779.0 372.9h0M782.7 371.1h0M786.4 371.3h0M790.1 371.4h0M793.8 368.6h0M797.5 365.2h0M801.2 364.4h0M804.9 364.1h0M808.6 359.4h0M812.3 358.8h0M816.0 361.5h0M819.7 356.7h0M823.4 354.6h0M827.1 350.4h0M830.8 349.5h0M834.5 353.0h0M838.2 349.3h0M841.9 346.7h0M845.6 345.4h0M849.3 342.7h0M853.0 344.9h0M856.7 342.6h0M860.4 340.6h0M864.1 338.6h0M867.8 338.5h0M871.5 337.3h0M875.2 339.3h0M878.9 338.4h0M882.6 337.0h0M886.3 336.4h0M890.0 335.1h0M893.7 333.1h0M897.4 332.8h0M901.1 330.7h0M904.8 331.9h0M908.5 330.7h0M912.2 328.2h0M915.9 323.4h0M919.6 322.6h0M923.3 323.5h0M927.0 320.5h0M930.7 321.2h0M934.4 322.0h0M938.1 318.6h0M941.9 315.9h0M945.6 318.1h0M949.3 316.2h0M953.0 315.7h0M956.7 312.8h0M960.4 315.4h0M964.1 314.5h0M967.8 311.2h0M971.5 312.5h0M975.2 309.0h0M978.9 308.9h0M982.6 307.6h0M986.3 302.6h0M990.0 302.7h0M993.7 301.4h0M997.4 299.4h0M1001.1 298.5h0M1004.8 299.5h0M1008.5 297.9h0M1012.2 295.3h0M1015.9 292.6h0M1019.6 294.3h0M1023.3 292.4h0M1027.0 291.6h0M1030.7 291.7h0M1034.4 291.1h0M1038.1 288.8h0M1041.8 287.1h0M1045.5 284.1h0M1049.2 281.3h0M1052.9 283.7h0M1056.6 283.9h0M1060.3 282.9h0M1064.0 280.2h0M1067.7 279.0h0M1071.4 277.7h0M1075.1 274.2h0M1078.8 275.2h0M1082.5 278.8h0M1086.2 273.2h0M1089.9 271.5h0M1093.6 271.3h0M1097.3 270.5h0M1101.0 267.1h0M1104.7 267.3h0M1108.4 266.8h0M1112.1 263.3h0M1115.8 261.6h0M1119.5 264.3h0M1123.2 262.3h0M1126.9 260.6h0M1130.6 259.4h0M1134.3 256.7h0M1138.0 253.6h0M1141.7 252.5h0M1145.4 254.0h0M1149.1 251.8h0M1152.8 247.9h0M1156.5 250.9h0M1160.2 245.8h0M1163.9 242.9h0M1167.6 242.7h0M1171.3 241.0h0M1175.0 242.3h0M1178.7 238.0h0M1182.4 235.8h0M1186.1 230.8h0M1189.8 230.1h0M1193.5 228.1h0M1197.2 225.2h0M1200.9 224.5h0M1204.6 223.4h0M1208.3 224.6h0M1212.0 223.0h0M1215.7 220.0h0M1219.5 216.8h0M1223.2 216.2h0M1226.9 216.7h0M1230.6 211.6h0M1234.3 211.2h0M1238.0 207.8h0M1241.7 212.2h0M1245.4 213.2h0M1249.1 215.2h0M1252.8 215.6h0M1256.5 218.2h0M1260.2 224.9h0M1263.9 232.6h0M1267.6 244.2h0M1271.3 252.7h0M1275.0 265.5h0M1278.7 275.7h0M1282.4 293.6h0M1286.1 311.5h0M1289.8 327.1h0M1293.5 347.7h0M1297.2 367.5h0M1300.9 390.2h0M1304.6 409.5h0M1308.3 434.0h0M1312.0 444.2h0M1315.7 467.3h0M1319.4 478.7h0M1323.1 491.2h0M1326.8 511.5h0M1330.5 520.7h0M1334.2 532.0h0M1337.9 546.6h0M1341.6 557.9h0M1345.3 563.9h0M1349.0 574.4h0M1352.7 588.4h0M1356.4 590.9h0M1360.1 596.2h0M1363.8 603.4h0M1367.5 609.5h0M1371.2 616.7h0M1374.9 621.9h0M1378.6 626.3h0M1382.3 629.3h0M1386.0 635.3h0M1389.7 641.5h0M1393.4 647.0h0M1397.1 651.2h0M1400.8 657.1h0M1404.5 662.1h0M1408.2 661.7h0M1411.9 665.8h0M1415.6 672.2h0M1419.3 675.5h0M1423.0 677.7h0M1426.7 683.0h0M1430.4 685.0h0M1434.1 687.6h0M1437.8 691.5h0M1441.5 697.9h0M1445.2 699.3h0M1448.9 704.6h0M1452.6 706.9h0M1456.3 708.6h0M1460.0 710.2h0M1463.7 712.8h0M1467.4 714.6h0M1471.1 718.5h0M1474.8 720.0h0M1478.5 724.4h0M1482.2 726.9h0M1485.9 728.1h0M1489.6 729.8h0M1493.3 732.6h0M1497.1 732.2h0M1500.8 733.2h0M1504.5 730.8h0M1508.2 734.4h0M1511.9 736.5h0M1515.6 735.1h0M1519.3 741.0h0M1523.0 741.0h0M1526.7 740.0h0M1530.4 741.1h0M1534.1 741.0h0M1537.8 746.5h0M1541.5 750.1h0M1545.2 748.5h0M1548.9 746.3h0M1552.6 747.8h0M1556.3 751.3h0M1560.0 752.3h0M1563.7 753.0h0M1567.4 755.0h0M1571.1 751.1h0M1574.8 752.3h0M1578.5 752.9h0M1582.2 751.4h0M1585.9 751.5h0M1589.6 752.5h0M1593.3 751.5h0M1597.0 751.6h0M1600.7 751.3h0M1604.4 749.3h0M1608.1 747.5h0M1611.8 748.4h0M1615.5 745.3h0M1619.2 742.7h0M1622.9 742.9h0M1626.6 741.9h0M1630.3 737.7h0M1634.0 738.5h0"/>
<path stroke="#ff00ff" d="M246.0 1083.2h0M249.7 1082.2h0M253.4 1082.7h0M257.1 1083.5h0M260.8 1082.3h0M264.5 1078.4h0M268.2 1073.7h0M271.9 1069.2h0M275.6 1063.3h0M279.3 1059.4h0M283.0 1056.7h0M286.7 1052.8h0M290.4 1045.4h0M294.1 1039.1h0M297.8 1028.2h0M301.5 1019.2h0M305.2 1006.7h0M308.9 997.4h0M312.6 982.1h0M316.3 961.9h0M320.0 947.6h0M323.7 922.0h0M327.4 900.6h0M331.1 871.0h0M334.8 852.7h0M338.5 832.5h0M342.2 814.9h0M345.9 801.2h0M349.6 790.5h0M353.3 780.3h0M357.0 769.0h0M360.7 762.8h0M364.4 752.0h0M368.1 747.4h0M371.8 742.9h0M375.5 736.6h0M379.2 728.6h0M382.9 724.0h0M386.7 719.2h0M390.4 713.2h0M394.1 709.1h0M397.8 705.7h0M401.5 699.8h0M405.2 695.5h0M408.9 693.2h0M412.6 685.8h0M416.3 681.7h0M420.0 679.2h0M423.7 672.2h0M427.4 667.0h0M431.1 663.8h0M434.8 659.2h0M438.5 657.2h0M442.2 652.2h0M445.9 649.3h0M449.6 642.6h0M453.3 636.8h0M457.0 637.3h0M460.7 632.7h0M464.4 628.1h0M468.1 626.5h0M471.8 622.3h0M475.5 616.6h0M479.2 612.3h0M482.9 611.0h0M486.6 606.6h0M490.3 604.1h0M494.0 607.2h0M497.7 602.4h0M501.4 600.0h0M505.1 597.8h0M508.8 592.0h0M512.5 587.9h0M516.2 588.0h0M519.9 583.5h0M523.6 586.3h0M527.3 585.1h0M531.0 579.7h0M534.7 575.1h0M538.4 574.0h0M542.1 574.8h0M545.8 573.4h0M549.5 571.3h0M553.2 567.9h0M556.9 564.1h0M560.6 561.5h0M564.3 558.1h0M568.0 557.1h0M571.7 552.9h0M575.4 550.7h0M579.1 549.1h0M582.8 549.4h0M586.5 546.8h0M590.2 544.1h0M593.9 540.1h0M597.6 538.4h0M601.3 535.8h0M605.0 533.1h0M608.7 531.1h0M612.4 532.2h0M616.1 529.1h0M619.8 527.5h0M623.5 521.4h0M627.2 521.3h0M630.9 518.6h0M634.6 515.9h0M638.3 514.6h0M642.0 512.9h0M645.7 512.2h0M649.4 511.7h0M653.1 508.1h0M656.8 508.6h0M660.5 506.4h0M664.3 503.8h0M668.0 504.5h0M671.7 502.1h0M675.4 500.6h0M679.1 495.8h0M682.8 494.8h0M686.5 494.5h0M690.2 489.9h0M693.9 486.9h0M697.6 482.1h0M701.3 482.3h0M705.0 482.7h0M708.7 478.8h0M712.4 475.5h0M716.1 473.5h0M719.8 472.3h0M723.5 474.9h0M727.2 472.0h0M730.9 470.9h0M734.6 464.5h0M738.3 465.3h0M742.0 465.0h0M745.7 463.4h0M749.4 461.7h0M753.1 462.4h0M756.8 459.1h0M760.5 455.4h0M764.2 457.2h0M767.9 454.2h0M771.6 453.7h0M775.3 453.8h0M779.0 450.0h0M782.7 449.2h0M786.4 445.0h0M790.1 445.1h0M793.8 442.6h0M797.5 444.2h0M801.2 443.9h0M804.9 439.6h0M808.6 435.8h0M812.3 434.0h0M816.0 434.8h0M819.7 436.2h0M823.4 435.9h0M827.1 434.1h0M830.8 432.5h0M834.5 429.9h0M838.2 430.6h0M841.9 428.7h0M845.6 429.6h0M849.3 426.4h0M853.0 422.8h0M856.7 422.9h0M860.4 424.3h0M864.1 423.4h0M867.8 422.2h0M871.5 421.7h0M875.2 420.1h0M878.9 416.3h0M882.6 414.7h0M886.3 413.3h0M890.0 412.4h0M893.7 409.3h0M897.4 410.1h0M901.1 410.9h0M904.8 409.0h0M908.5 409.7h0M912.2 410.4h0M915.9 403.7h0M919.6 403.9h0M923.3 406.9h0M927.0 404.9h0M930.7 403.4h0M934.4 402.8h0M938.1 402.3h0M941.9 398.9h0M945.6 399.4h0M949.3 398.5h0M953.0 397.6h0M956.7 395.5h0M960.4 394.4h0M964.1 391.4h0M967.8 390.1h0M971.5 393.5h0M975.2 392.8h0M978.9 388.5h0M982.6 385.6h0M986.3 389.0h0M990.0 388.5h0M993.7 386.7h0M997.4 387.2h0M1001.1 383.1h0M1004.8 382.6h0M1008.5 381.4h0M1012.2 380.7h0M1015.9 378.4h0M1019.6 379.8h0M1023.3 377.2h0M1027.0 376.2h0M1030.7 378.8h0M1034.4 374.8h0M1038.1 375.6h0M1041.8 374.7h0M1045.5 377.2h0M1049.2 372.5h0M1052.9 369.8h0M1056.6 367.1h0M1060.3 368.2h0M1064.0 368.5h0M1067.7 366.0h0M1071.4 365.4h0M1075.1 364.5h0M1078.8 364.8h0M1082.5 363.0h0M1086.2 358.9h0M1089.9 356.8h0M1093.6 357.2h0M1097.3 356.8h0M1101.0 355.5h0M1104.7 354.0h0M1108.4 353.6h0M1112.1 350.7h0M1115.8 347.4h0M1119.5 350.2h0M1123.2 347.7h0M1126.9 344.4h0M1130.6 342.2h0M1134.3 343.1h0M1138.0 343.1h0M1141.7 338.9h0M1145.4 337.5h0M1149.1 336.8h0M1152.8 335.3h0M1156.5 334.3h0M1160.2 335.6h0M1163.9 333.5h0M1167.6 331.8h0M1171.3 330.8h0M1175.0 326.7h0M1178.7 325.8h0M1182.4 325.3h0M1186.1 323.6h0M1189.8 320.9h0M1193.5 318.7h0M1197.2 319.6h0M1200.9 315.2h0M1204.6 313.5h0M1208.3 312.0h0M1212.0 312.3h0M1215.7 312.2h0M1219.5 307.3h0M1223.2 309.5h0M1226.9 308.7h0M1230.6 306.0h0M1234.3 305.2h0M1238.0 312.2h0M1241.7 305.8h0M1245.4 307.6h0M1249.1 310.7h0M1252.8 314.3h0M1256.5 318.1h0M1260.2 321.6h0M1263.9 325.9h0M1267.6 336.4h0M1271.3 343.8h0M1275.0 358.2h0M1278.7 370.8h0M1282.4 387.9h0M1286.1 398.5h0M1289.8 415.4h0M1293.5 433.9h0M1297.2 455.4h0M1300.9 470.8h0M1304.6 493.2h0M1308.3 517.0h0M1312.0 530.5h0M1315.7 547.3h0M1319.4 558.8h0M1323.1 572.8h0M1326.8 591.9h0M1330.5 602.5h0M1334.2 610.9h0M1337.9 625.6h0M1341.6 637.7h0M1345.3 645.3h0M1349.0 651.6h0M1352.7 661.8h0M1356.4 668.8h0M1360.1 679.2h0M1363.8 684.4h0M1367.5 689.8h0M1371.2 697.2h0M1374.9 704.1h0M1378.6 709.7h0M1382.3 715.7h0M1386.0 721.1h0M1389.7 723.0h0M1393.4 728.1h0M1397.1 733.3h0M1400.8 735.5h0M1404.5 738.9h0M1408.2 742.8h0M1411.9 747.6h0M1415.6 750.2h0M1419.3 755.8h0M1423.0 755.2h0M1426.7 761.5h0M1430.4 767.0h0M1434.1 767.6h0M1437.8 771.5h0M1441.5 773.1h0M1445.2 775.5h0M1448.9 778.9h0M1452.6 781.8h0M1456.3 785.2h0M1460.0 788.3h0M1463.7 791.9h0M1467.4 793.0h0M1471.1 795.1h0M1474.8 800.6h0M1478.5 802.9h0M1482.2 800.3h0M1485.9 805.8h0M1489.6 804.5h0M1493.3 808.4h0M1497.1 809.5h0M1500.8 812.1h0M1504.5 813.3h0M1508.2 814.2h0M1511.9 818.9h0M1515.6 819.0h0M1519.3 820.9h0M1523.0 824.0h0M1526.7 823.9h0M1530.4 822.6h0M1534.1 824.0h0M1537.8 825.0h0M1541.5 827.4h0M1545.2 827.3h0M1548.9 827.2h0M1552.6 828.7h0M1556.3 827.6h0M1560.0 828.5h0M1563.7 831.0h0M1567.4 835.8h0M1571.1 835.0h0M1574.8 834.8h0M1578.5 836.5h0M1582.2 836.4h0M1585.9 834.4h0M1589.6 832.7h0M1593.3 831.4h0M1597.0 833.5h0M1600.7 834.0h0M1604.4 832.2h0M1608.1 832.3h0M1611.8 826.8h0M1615.5 829.3h0M1619.2 829.7h0M1622.9 829.0h0M1626.6 829.1h0M1630.3 825.3h0M1634.0 823.6h0"/>
</g>
<line x1="1257.1" y1="26" x2="1254.2" y2="1267" stroke="#000" stroke-width="4.6"/>
<line x1="380.7" y1="200.6" x2="637.7" y2="512.4" stroke="#000" stroke-width="4.8" stroke-linecap="round"/>
<polygon points="654.5,532.8 631.4,515.0 641.4,506.8" fill="#000" stroke="#000" stroke-width="3.6" stroke-linejoin="round"/>
<line x1="535.4" y1="193.3" x2="721.5" y2="426.0" stroke="#000" stroke-width="4.8" stroke-linecap="round"/>
<polygon points="738.0,446.6 715.2,428.5 725.3,420.4" fill="#000" stroke="#000" stroke-width="3.6" stroke-linejoin="round"/>
<line x1="746.1" y1="197.2" x2="843.0" y2="326.0" stroke="#000" stroke-width="4.8" stroke-linecap="round"/>
<polygon points="858.8,347.1 836.6,328.3 846.9,320.5" fill="#000" stroke="#000" stroke-width="3.6" stroke-linejoin="round"/>
<line x1="922.2" y1="197.2" x2="979.4" y2="266.8" stroke="#000" stroke-width="4.8" stroke-linecap="round"/>
<polygon points="996.2,287.2 973.1,269.4 983.2,261.1" fill="#000" stroke="#000" stroke-width="3.6" stroke-linejoin="round"/>
<line x1="1130.8" y1="207.4" x2="1200.0" y2="285.3" stroke="#000" stroke-width="4.8" stroke-linecap="round"/>
<polygon points="1217.5,305.1 1193.8,288.1 1203.5,279.5" fill="#000" stroke="#000" stroke-width="3.6" stroke-linejoin="round"/>
</g>
<text transform="translate(134.10,1050.61) scale(0.955,1)" font-family="'Liberation Sans',sans-serif" font-size="61" letter-spacing="1.5" fill="#000">3.0</text>
<text transform="translate(135.10,740.36) scale(0.955,1)" font-family="'Liberation Sans',sans-serif" font-size="61" letter-spacing="1.5" fill="#000">3.2</text>
<text transform="translate(134.10,430.11) scale(0.955,1)" font-family="'Liberation Sans',sans-serif" font-size="61" letter-spacing="1.5" fill="#000">3.4</text>
<text transform="translate(135.10,119.86) scale(0.955,1)" font-family="'Liberation Sans',sans-serif" font-size="61" letter-spacing="1.5" fill="#000">3.6</text>
<text transform="translate(377.95,1337.80) scale(0.955,1)" font-family="'Liberation Sans',sans-serif" font-size="61" letter-spacing="1.5" fill="#000">40</text>
<text transform="translate(563.55,1337.80) scale(0.955,1)" font-family="'Liberation Sans',sans-serif" font-size="61" letter-spacing="1.5" fill="#000">50</text>
<text transform="translate(748.20,1337.80) scale(0.955,1)" font-family="'Liberation Sans',sans-serif" font-size="61" letter-spacing="1.5" fill="#000">60</text>
<text transform="translate(933.70,1337.80) scale(0.955,1)" font-family="'Liberation Sans',sans-serif" font-size="61" letter-spacing="1.5" fill="#000">70</text>
<text transform="translate(1118.60,1337.80) scale(0.955,1)" font-family="'Liberation Sans',sans-serif" font-size="61" letter-spacing="1.5" fill="#000">80</text>
<text transform="translate(1303.80,1337.80) scale(0.955,1)" font-family="'Liberation Sans',sans-serif" font-size="61" letter-spacing="1.5" fill="#000">90</text>
<text transform="translate(1473.15,1337.80) scale(0.955,1)" font-family="'Liberation Sans',sans-serif" font-size="61" letter-spacing="1.5" fill="#000">100</text>
<text font-family="'Liberation Sans',sans-serif" fill="#000"><tspan x="664.65" y="1190.20" font-size="73.28" letter-spacing="3.13" textLength="164.45" lengthAdjust="spacingAndGlyphs">SmC</tspan><tspan x="828.60" y="1181.20" font-size="62.32" textLength="25.67" lengthAdjust="spacingAndGlyphs">*</tspan></text>
<text font-family="'Liberation Sans',sans-serif" fill="#000"><tspan x="1389.80" y="1195.00" font-size="73.8" letter-spacing="3.21" textLength="161.93" lengthAdjust="spacingAndGlyphs">SmA</tspan><tspan x="1551.90" y="1186.10" font-size="61.76" textLength="25.67" lengthAdjust="spacingAndGlyphs">*</tspan></text>
<text transform="translate(338.50,185.10) scale(0.965,1)" font-family="'Liberation Serif',serif" font-size="73.8" fill="#ff0000">3V</text>
<text transform="translate(495.90,185.10) scale(0.965,1)" font-family="'Liberation Serif',serif" font-size="73.8" fill="#00ff00">5V</text>
<text transform="translate(678.05,183.20) scale(0.965,1)" font-family="'Liberation Serif',serif" font-size="73.8" fill="#0000ff">10V</text>
<text transform="translate(868.05,187.10) scale(0.965,1)" font-family="'Liberation Serif',serif" font-size="73.8" fill="#00ffff">15V</text>
<text transform="translate(1062.50,194.00) scale(0.965,1)" font-family="'Liberation Serif',serif" font-size="73.8" fill="#ff00ff">20V</text>
<text transform="translate(922.30,712.00) scale(0.965,1)" font-family="'Liberation Serif',serif" font-size="73.8" fill="#000000">0V</text>
<text font-family="'Liberation Sans',sans-serif" fill="#000"><tspan x="859.55" y="1458.90" font-size="92.3" textLength="54.81" lengthAdjust="spacingAndGlyphs">T</tspan> <tspan x="942.00" y="1457.90" font-size="86.58" textLength="24.80" lengthAdjust="spacingAndGlyphs">/</tspan> <tspan x="993.95" y="1410.10" font-size="56.6" textLength="30.48" lengthAdjust="spacingAndGlyphs">o</tspan><tspan x="1024.10" y="1459.20" font-size="92.3" textLength="64.79" lengthAdjust="spacingAndGlyphs">C</tspan></text>
<text transform="translate(126.10,604.50) rotate(-90)" fill="#000"><tspan x="0.00" y="0.00" font-size="118.75" textLength="53.83" lengthAdjust="spacingAndGlyphs" font-family="'Liberation Serif',serif">ε</tspan><tspan x="49.02" y="9.00" font-size="138.19" textLength="24.41" lengthAdjust="spacingAndGlyphs" font-family="'Liberation Sans',sans-serif">'</tspan></text>
</svg>
</body>
</html>
